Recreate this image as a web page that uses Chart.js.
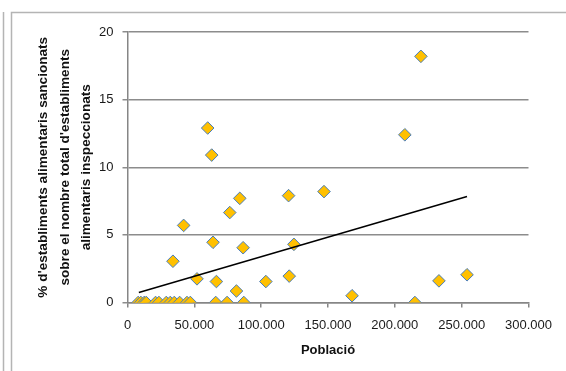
<!DOCTYPE html>
<html>
<head>
<meta charset="utf-8">
<script src="https://cdn.jsdelivr.net/npm/chart.js@4"></script>
<style>
html,body{margin:0;padding:0;background:#fff;}
#wrap{position:relative;width:566px;height:371px;}
</style>
</head>
<body>
<div id="wrap"><canvas id="c" width="566" height="371"></canvas></div>
<script>
// Population of each municipality (x) and % of sanctioned food establishments (y)
const poblacio = [
  219500, 207500, 60000, 63000, 42000, 76500, 84000, 120500, 147000,
  64000, 86500, 124500, 34000, 52000, 66500, 103500, 121000, 81500,
  168000, 215000, 233000, 254000, 66000, 74500, 87000,
  8000, 10000, 12500, 14000, 21000, 23500, 29000, 32000, 35000, 39000, 44500, 47000
];
const percentSancionats = [
  18.2, 12.4, 12.9, 10.9, 5.7, 6.65, 7.7, 7.9, 8.2,
  4.45, 4.05, 4.3, 3.05, 1.75, 1.55, 1.55, 1.95, 0.85,
  0.5, 0, 1.6, 2.05, 0, 0, 0,
  0, 0, 0, 0, 0, 0, 0, 0, 0, 0, 0, 0
];
// Linear trend line endpoints
const tendenciaX = [8500, 254000];
const tendenciaY = [0.74, 7.84];
// Tick labels
const xTickLabels = ['0', '50.000', '100.000', '150.000', '200.000', '250.000', '300.000'];
const yTickLabels = ['0', '5', '10', '15', '20'];
const yTitle = ["% d'establiments alimentaris sancionats", "sobre el nombre total d'establiments", 'alimentaris inspeccionats'];
const xTitle = 'Població';

const points = poblacio.map((x, i) => ({x: x, y: percentSancionats[i]}));
const trend = tendenciaX.map((x, i) => ({x: x, y: tendenciaY[i]}));

const frame = {
  id: 'frame',
  beforeDraw(chart) {
    const ctx = chart.ctx;
    ctx.save();
    ctx.fillStyle = '#fff';
    ctx.fillRect(0, 0, chart.width, chart.height);
    ctx.strokeStyle = '#b4b4b4';
    ctx.lineWidth = 1.5;
    ctx.beginPath();
    ctx.moveTo(3.5, 12); ctx.lineTo(3.5, 371);
    ctx.moveTo(11.5, 380); ctx.lineTo(11.5, 12.5); ctx.lineTo(570, 12.5);
    ctx.stroke();
    ctx.restore();
  }
};

new Chart(document.getElementById('c'), {
  type: 'scatter',
  data: {
    datasets: [
      {
        type: 'line',
        data: trend,
        borderColor: '#000',
        borderWidth: 1.5,
        pointRadius: 0,
        fill: false,
        tension: 0
      },
      {
        data: points,
        pointStyle: 'rectRot',
        pointRadius: 6.3,
        pointHoverRadius: 6.3,
        backgroundColor: '#FFC000',
        borderColor: '#4A7EBB',
        borderWidth: 1
      }
    ]
  },
  plugins: [frame],
  options: {
    responsive: false,
    animation: false,
    layout: {padding: {left: 0, right: 37.5, top: 32, bottom: 0}},
    plugins: {legend: {display: false}, tooltip: {enabled: false}},
    scales: {
      x: {
        type: 'linear',
        min: 0, max: 300000,
        afterFit(s) { s.height = 68.5; },
        ticks: {
          stepSize: 50000,
          padding: 10,
          color: '#1a1a1a',
          font: {family: 'Liberation Sans', size: 13},
          maxRotation: 0,
          callback: (v) => xTickLabels[Math.round(v / 50000)]
        },
        grid: {drawOnChartArea: false, drawTicks: true, tickLength: 5, color: '#868686', lineWidth: 1.5},
        border: {color: '#868686', width: 1.5},
        title: {
          display: true, text: xTitle, color: '#111',
          font: {family: 'Liberation Sans', size: 13, weight: 'bold'},
          padding: {top: 0, bottom: 13}
        }
      },
      y: {
        type: 'linear',
        min: 0, max: 20,
        afterFit(s) { s.width = 127.5; },
        ticks: {
          stepSize: 5,
          padding: 9,
          color: '#1a1a1a',
          font: {family: 'Liberation Sans', size: 13},
          callback: (v) => yTickLabels[Math.round(v / 5)]
        },
        grid: {drawTicks: true, tickLength: 5, color: '#8c8c8c', lineWidth: 1.5},
        border: {color: '#868686', width: 1.5},
        title: {
          display: true, text: yTitle, color: '#111',
          font: {family: 'Liberation Sans', size: 13.6, weight: 'bold', lineHeight: 1.58},
          padding: {top: 33, bottom: 0}
        }
      }
    }
  }
});
</script>
</body>
</html>
